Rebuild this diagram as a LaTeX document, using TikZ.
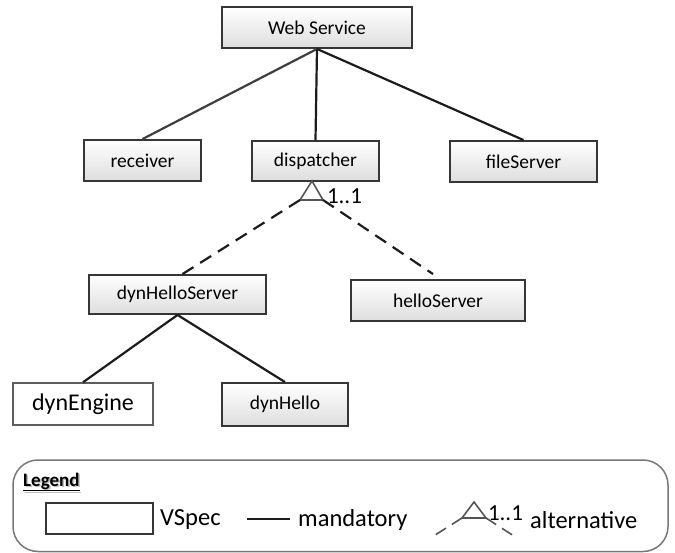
\documentclass[tikz,border=0pt]{standalone}
\usepackage{fontspec}
\setmainfont{Carlito}
\usetikzlibrary{calc}
\definecolor{boxline}{HTML}{363636}
\definecolor{linec}{HTML}{1C1C1C}
\definecolor{legc}{HTML}{555555}
\begin{document}
\begin{tikzpicture}[x=1pt,y=-1pt,
  vbox/.style={draw=boxline, line width=1.9pt, top color=white, bottom color=black!13,
    inner sep=0pt, font=\fontsize{19.5}{22}\selectfont},
  plainbox/.style={draw=boxline!80, line width=1.4pt, fill=white, inner sep=0pt},
  mand/.style={draw=linec, line width=2.2pt},
  alt/.style={draw=linec, line width=2.2pt, dash pattern=on 13pt off 8pt},
  tri/.style={draw=legc, line width=1.6pt},
  lbl/.style={inner sep=0pt, font=\fontsize{23}{26}\selectfont},
  legtext/.style={inner sep=0pt, anchor=west, font=\fontsize{24.5}{28}\selectfont}]
\useasboundingbox (0,0) rectangle (675,553);

% tree nodes
\node[vbox, minimum width=190pt, minimum height=41pt] (ws) at (317,27.5) {Web Service};
\node[vbox, minimum width=117pt, minimum height=41pt] (rec) at (142.5,160.5) {receiver};
\node[vbox, minimum width=127pt, minimum height=40pt] (disp) at (315.5,161) {dispatcher};
\node[vbox, minimum width=147pt, minimum height=41pt] (fs) at (523.5,161.5) {fileServer};
\node[vbox, minimum width=177pt, minimum height=39pt] (dhs) at (177.5,294.5) {dynHelloServer};
\node[vbox, minimum width=174pt, minimum height=41pt] (hs) at (438,300.5) {helloServer};
\node[plainbox, minimum width=140pt, minimum height=42pt, font=\fontsize{24}{28}\selectfont] (de) at (83,404) {dynEngine};
\node[vbox, minimum width=126pt, minimum height=43pt] (dh) at (285,404.5) {dynHello};

% mandatory connectors
\draw[mand, draw=linec!85] (ws.south) -- (rec.north);
\draw[mand] (ws.south) -- (disp.north);
\draw[mand] (ws.south) -- (fs.north);
\draw[mand] (dhs.south) -- (de.north);
\draw[mand] (dhs.south) -- (dh.north);

% alternative group
\coordinate (apex) at (312,181);
\coordinate (bl) at (300,200);
\coordinate (br) at (323,200);
\draw[tri] (apex) -- (bl) -- (br) -- cycle;
\node[lbl] (card) at (344.5,196) {1..1};
\coordinate (dhsTop) at ([xshift=5pt]dhs.north);
\coordinate (hsTop) at ([xshift=-5pt, yshift=5pt]hs.north);
\draw[alt] (bl) -- (dhsTop);
\draw[alt] (br) -- (hsTop);

% legend
\draw[draw=legc!80, line width=1.5pt, rounded corners=25pt] (13,460) rectangle (668,551.5);
\node[inner sep=0pt, anchor=west, text=black!25, font=\fontsize{19}{22}\selectfont\bfseries] at (24.5,483.5) {\underline{Legend}};
\node[inner sep=0pt, anchor=west, font=\fontsize{19}{22}\selectfont\bfseries] (leg) at (23,482) {\underline{Legend}};
\node[plainbox, draw=boxline, minimum width=107pt, minimum height=31pt] (vs) at (99.5,518.5) {};
\node[legtext] (vstxt) at (160,520) {VSpec};
\coordinate (ml) at (247,519);
\node[legtext] (mandtxt) at (298,520) {mandatory};
\draw[draw=linec, line width=1.4pt, shorten >=8pt] (ml) -- (mandtxt.west |- ml);
\coordinate (lapex) at (474,502);
\coordinate (lbl) at (462,518);
\coordinate (lbr) at (486,518);
\coordinate (lfl) at (432,537);
\coordinate (lfr) at (517,538);
\draw[tri] (lapex) -- (lbl) -- (lbr) -- cycle;
\draw[draw=legc, line width=1.6pt, dash pattern=on 12pt off 7pt] (lbl) -- (lfl);
\draw[draw=legc, line width=1.6pt, dash pattern=on 12pt off 7pt] (lbr) -- (lfr);
\node[inner sep=0pt, font=\fontsize{23}{26}\selectfont] (lcard) at (505.5,513) {1..1};
\node[legtext] (alttxt) at (530,520) {alternative};
\end{tikzpicture}
\end{document}
